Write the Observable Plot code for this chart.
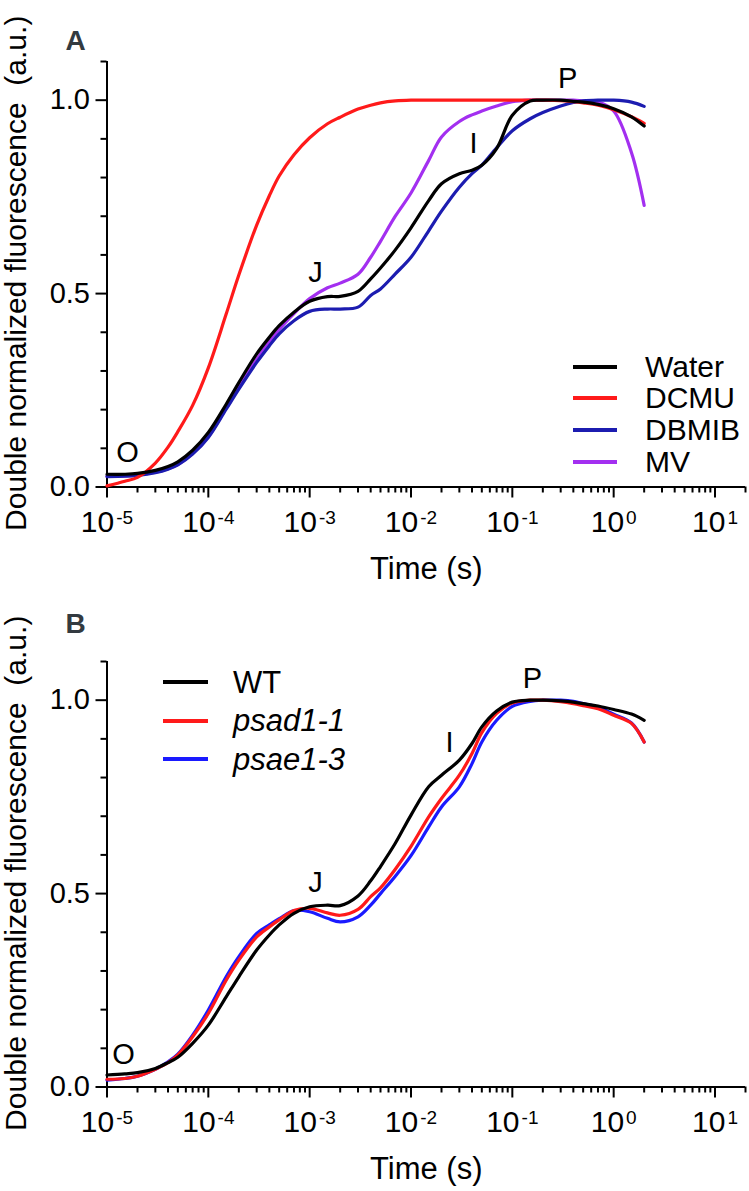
<!DOCTYPE html>
<html><head><meta charset="utf-8">
<script src="https://cdn.jsdelivr.net/npm/d3@7"></script>
<script src="https://cdn.jsdelivr.net/npm/@observablehq/plot@0.6"></script>
<style>
body{margin:0;background:#fff;}
#wrap{position:relative;width:749px;height:1191px;font-family:"Liberation Sans",Arial,sans-serif;background:#fff;}
#wrap svg{display:block;}
.legend-row{position:absolute;display:flex;align-items:center;height:40px;line-height:1;color:#000;white-space:nowrap;}
.legend-row .sw{height:4px;flex:none;}
</style></head>
<body><div id="wrap"></div>
<script>
// ---- data ----
const time = [1e-5, 1.5e-5, 2e-5, 3e-5, 4e-5, 5e-5, 7e-5,
  1e-4, 1.5e-4, 2e-4, 3e-4, 4e-4, 5e-4, 7e-4,
  1e-3, 1.5e-3, 2e-3, 3e-3, 4e-3, 5e-3, 7e-3,
  1e-2, 1.5e-2, 2e-2, 3e-2, 4e-2, 5e-2, 7e-2,
  0.1, 0.15, 0.2, 0.3, 0.4, 0.5, 0.7,
  1, 1.5, 2];

// Panel A
const water = [0.033, 0.033, 0.035, 0.043, 0.053, 0.065, 0.095,
  0.141, 0.214, 0.27, 0.344, 0.387, 0.417, 0.452,
  0.48, 0.492, 0.493, 0.506, 0.538, 0.566, 0.613,
  0.67, 0.741, 0.784, 0.81, 0.819, 0.832, 0.875,
  0.961, 0.998, 1.0, 1.0, 0.997, 0.995, 0.989,
  0.978, 0.957, 0.933];
const dcmu = [0.003, 0.015, 0.025, 0.062, 0.103, 0.143, 0.211,
  0.308, 0.447, 0.548, 0.677, 0.753, 0.804, 0.859,
  0.903, 0.939, 0.956, 0.977, 0.987, 0.993, 0.998,
  1.0, 1.0, 1.0, 1.0, 1.0, 1.0, 1.0,
  1.0, 1.0, 1.0, 0.999, 0.996, 0.993, 0.987,
  0.975, 0.957, 0.94];
const dbmib = [0.027, 0.028, 0.03, 0.037, 0.046, 0.057, 0.085,
  0.128, 0.201, 0.253, 0.322, 0.365, 0.396, 0.43,
  0.454, 0.46, 0.46, 0.465, 0.495, 0.512, 0.551,
  0.594, 0.663, 0.713, 0.775, 0.81, 0.832, 0.877,
  0.921, 0.952, 0.968, 0.985, 0.994, 0.998, 1.0,
  1.0, 0.995, 0.984];
const mv = [0.028, 0.029, 0.031, 0.038, 0.047, 0.058, 0.087,
  0.13, 0.205, 0.258, 0.33, 0.375, 0.407, 0.448,
  0.487, 0.515, 0.527, 0.55, 0.594, 0.635, 0.7,
  0.76, 0.845, 0.905, 0.945, 0.962, 0.972, 0.985,
  0.996, 1.0, 1.0, 1.0, 1.0, 0.998, 0.995,
  0.972, 0.864, 0.728];

// Panel B
const wt = [0.031, 0.034, 0.037, 0.048, 0.063, 0.077, 0.113,
  0.16, 0.233, 0.285, 0.354, 0.393, 0.419, 0.449,
  0.466, 0.47, 0.469, 0.494, 0.533, 0.57, 0.63,
  0.703, 0.777, 0.806, 0.845, 0.888, 0.931, 0.972,
  0.995, 1.0, 1.0, 0.998, 0.995, 0.991, 0.985,
  0.976, 0.964, 0.948];
const psad = [0.02, 0.022, 0.028, 0.046, 0.063, 0.083, 0.13,
  0.19, 0.276, 0.328, 0.388, 0.414, 0.432, 0.456,
  0.462, 0.45, 0.444, 0.459, 0.492, 0.515, 0.563,
  0.622, 0.699, 0.746, 0.806, 0.862, 0.916, 0.966,
  0.993, 1.0, 1.0, 0.996, 0.991, 0.986, 0.978,
  0.961, 0.94, 0.892];
const psae = [0.018, 0.022, 0.028, 0.046, 0.065, 0.085, 0.134,
  0.199, 0.285, 0.337, 0.397, 0.419, 0.435, 0.456,
  0.453, 0.436, 0.427, 0.44, 0.47, 0.5, 0.545,
  0.598, 0.673, 0.724, 0.776, 0.836, 0.892, 0.948,
  0.984, 0.997, 1.0, 1.0, 0.997, 0.991, 0.982,
  0.964, 0.941, 0.892];

// series names/colours
const namesA = ["Water", "DCMU", "DBMIB", "MV"];
const colorsA = ["#000000", "#ff1a1a", "#1c1cb0", "#a32ff0"];
const namesB = ["WT", "psad1-1", "psae1-3"];
const colorsB = ["#000000", "#ff1a1a", "#1a1aff"];
const italicB = [false, true, true];

// phase annotations (time, value, label)
const annLabels = ["O", "J", "I", "P"];
const annTimeA = [1.59e-5, 1.14e-3, 4.15e-2, 0.352];
const annValA = [0.088, 0.554, 0.888, 1.056];
const annTimeB = [1.46e-5, 1.14e-3, 2.4e-2, 0.158];
const annValB = [0.083, 0.527, 0.889, 1.056];

// ticks
const xMajor = [1e-5, 1e-4, 1e-3, 1e-2, 1e-1, 1, 10];
const xMinor = [];
for (const d of [1e-5, 1e-4, 1e-3, 1e-2, 1e-1, 1]) for (let k = 2; k <= 9; k++) xMinor.push(d * k);
xMinor.push(20);
const yMajor = [0, 0.5, 1.0];
const yMinor = [0.1, 0.2, 0.3, 0.4, 0.6, 0.7, 0.8, 0.9, 1.1];

const yTitle = "Double normalized fluorescence  (a.u.)";
const xTitle = "Time (s)";
const FONT = '"Liberation Sans", Arial, Helvetica, sans-serif';

function makePanel({series, colors, annT, annV, letter, height, marginTop, letterDy}) {
  const frameH = 425.5;
  const lines = series.map((vals, i) => Plot.line(time.map((t, j) => ({t, v: vals[j]})),
    {x: "t", y: "v", stroke: colors[i], strokeWidth: 3.2, curve: "catmull-rom"}));
  const ann = annLabels.map((l, i) => ({t: annT[i], v: annV[i], l}));
  const svg = Plot.plot({
    width: 749, height, marginLeft: 106.5, marginRight: 4,
    marginTop, marginBottom: height - marginTop - frameH,
    x: {type: "log", domain: [1e-5, 20]},
    y: {domain: [0, 1.1]},
    style: {fontFamily: FONT, fontSize: "30px", color: "#000", background: "#fff", overflow: "visible"},
    marks: [
      Plot.axisX(xMinor, {tickSize: 6, strokeWidth: 2, tickFormat: () => "", label: null}),
      Plot.axisX(xMajor, {tickSize: 11, strokeWidth: 2, tickPadding: 13, fontSize: 30,
        tickFormat: d => String(Math.round(Math.log10(d))), label: null}),
      Plot.axisY(yMinor, {tickSize: 6, strokeWidth: 2, tickFormat: () => "", label: null}),
      Plot.axisY(yMajor, {tickSize: 11, strokeWidth: 2, tickPadding: 6, fontSize: 29,
        tickFormat: d3.format(".1f"), label: null}),
      Plot.ruleY([0], {strokeWidth: 2}),
      Plot.ruleX([1e-5], {strokeWidth: 2}),
      ...lines.reverse(),
      Plot.text(ann, {x: "t", y: "v", text: "l", fontSize: 29, textAnchor: "middle", lineAnchor: "middle", fill: "#000"}),
      Plot.text([xTitle], {text: d => d, frameAnchor: "bottom", textAnchor: "middle", lineAnchor: "middle",
        dy: 82, fontSize: 31, fill: "#000"}),
      Plot.text([yTitle], {text: d => d, frameAnchor: "left", textAnchor: "middle", lineAnchor: "middle",
        rotate: -90, dx: -91, dy: -1, fontSize: 30, fill: "#000"}),
      Plot.text([letter], {text: d => d, frameAnchor: "top-left", textAnchor: "start", lineAnchor: "middle",
        dx: -41.5, dy: letterDy, fontSize: 28, fontWeight: "bold", fill: "#333a40"})
    ]
  });
  // superscript exponents on x tick labels
  svg.querySelectorAll('g[aria-label="x-axis tick label"] text').forEach(t => {
    const e = t.textContent;
    if (!e) return;
    t.textContent = "10";
    const ts = document.createElementNS("http://www.w3.org/2000/svg", "tspan");
    ts.setAttribute("font-size", "19");
    ts.setAttribute("dy", "-8");
    ts.setAttribute("dx", "2");
    ts.textContent = e;
    t.appendChild(ts);
  });
  return svg;
}

const wrap = document.getElementById("wrap");
wrap.appendChild(makePanel({
  series: [water, dcmu, dbmib, mv], colors: colorsA, annT: annTimeA, annV: annValA,
  letter: "A", height: 590, marginTop: 61, letterDy: -20
}));
wrap.appendChild(makePanel({
  series: [wt, psad, psae], colors: colorsB, annT: annTimeB, annV: annValB,
  letter: "B", height: 601, marginTop: 71, letterDy: -37
}));

// legends (HTML overlay)
function legend({names, colors, italic, left, top, spacing, lineW, gap, fontSize}) {
  names.forEach((n, i) => {
    const row = document.createElement("div");
    row.className = "legend-row";
    row.style.left = left + "px";
    row.style.top = (top + i * spacing - 20) + "px";
    row.style.fontSize = fontSize + "px";
    const sw = document.createElement("div");
    sw.className = "sw";
    sw.style.width = lineW + "px";
    sw.style.background = colors[i];
    sw.style.marginRight = gap + "px";
    const tx = document.createElement("span");
    tx.textContent = n;
    if (italic && italic[i]) tx.style.fontStyle = "italic";
    row.appendChild(sw); row.appendChild(tx);
    wrap.appendChild(row);
  });
}
legend({names: namesA, colors: colorsA, left: 573, top: 366.7, spacing: 31.6, lineW: 44, gap: 28, fontSize: 30});
legend({names: namesB, colors: colorsB, italic: italicB, left: 163, top: 682.3, spacing: 38.5, lineW: 45, gap: 25, fontSize: 31});
</script></body></html>
